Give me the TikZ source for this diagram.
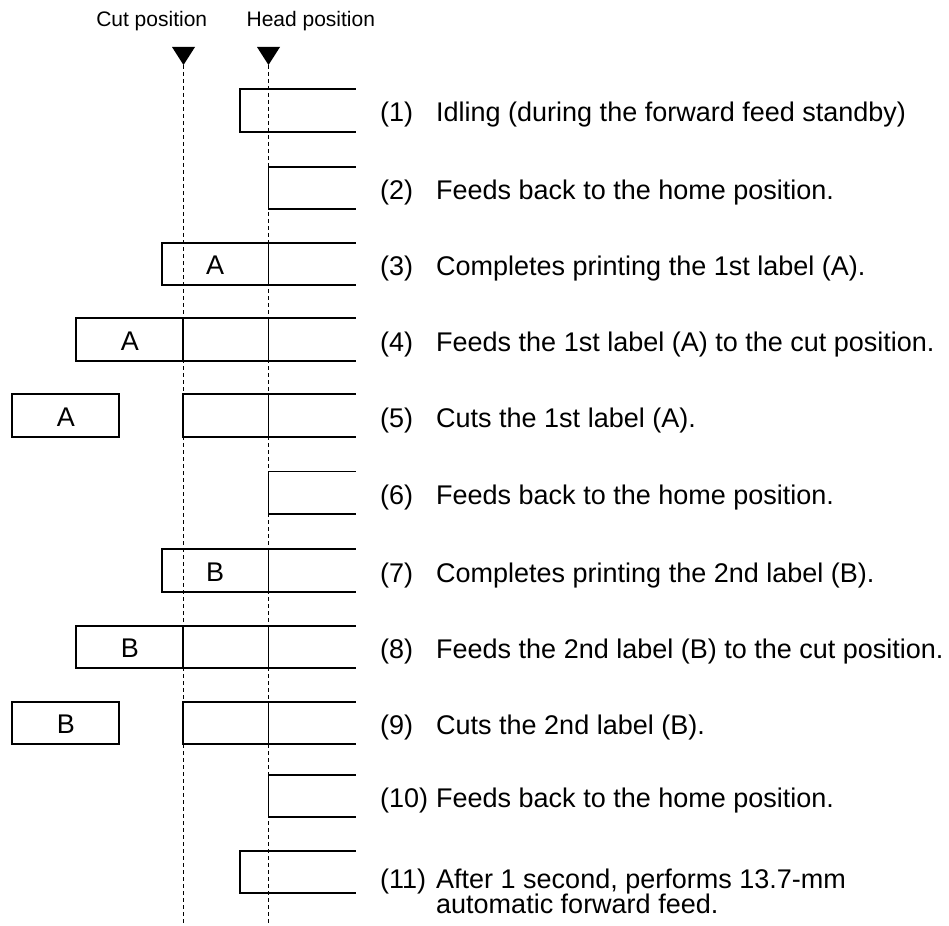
\documentclass[tikz,border=0pt]{standalone}
\usepackage{fontspec}
\setmainfont{Liberation Sans}
\begin{document}
\begin{tikzpicture}[x=1pt,y=-1pt,
  tape/.style={line width=1.9pt, line join=miter, line cap=rect},
  guide/.style={line width=1.5pt, dash pattern=on 4pt off 3pt},
  pointer/.style={fill=black, draw=none},
  toplabel/.style={anchor=base, inner sep=0pt, font=\fontsize{21}{25}\selectfont},
  numlabel/.style={anchor=base west, inner sep=0pt, font=\fontsize{27}{30}\selectfont},
  desc/.style={anchor=base west, inner sep=0pt, font=\fontsize{27}{30}\selectfont},
  piece/.style={anchor=base, inner sep=0pt, font=\fontsize{27}{30}\selectfont}]
\useasboundingbox (0,0) rectangle (949,925);
% top labels
\node[toplabel] (cutlab) at (151.7,27) {Cut position};
\node[toplabel] (headlab) at (310.8,27) {Head position};
% pointers
\fill[pointer] (172,47) -- (195,47) -- (183.5,65) -- cycle;
\fill[pointer] (257,47) -- (280,47) -- (268.5,65) -- cycle;
% guides
\draw[guide] (183.3,65) -- (183.3,925);
\draw[guide] (268.5,65) -- (268.5,925);
% row 1
\draw[tape] (355,89.3) -- (240,89.3) -- (240,131.7) -- (355,131.7);
% row 2
\draw[tape] (355,166.7) -- (268.5,166.7) -- (268.5,209) -- (355,209);
% row 3
\draw[tape] (355,242.7) -- (161.7,242.7) -- (161.7,285.3) -- (355,285.3);
\draw[tape] (268.5,242.7) -- (268.5,285.3);
\node[piece] (a3) at (215.1,274.5) {A};
% row 4
\draw[tape] (355,318.3) -- (76.3,318.3) -- (76.3,360.7) -- (355,360.7);
\draw[tape] (183.3,318.3) -- (183.3,360.7);
\draw[tape] (268.5,318.3) -- (268.5,360.7);
\node[piece] (a4) at (129.8,350) {A};
% row 5
\draw[tape] (12.3,394.3) rectangle (119.3,436.7);
\node[piece] (a5) at (65.8,426) {A};
\draw[tape] (355,394.3) -- (183.3,394.3) -- (183.3,436.7) -- (355,436.7);
\draw[tape] (268.5,394.3) -- (268.5,436.7);
% row 6
\draw[tape] (355,471.5) -- (268.5,471.5) -- (268.5,513.9) -- (355,513.9);
% row 7
\draw[tape] (355,549.3) -- (161.7,549.3) -- (161.7,591.7) -- (355,591.7);
\draw[tape] (268.5,549.3) -- (268.5,591.7);
\node[piece] (b7) at (215.1,581) {B};
% row 8
\draw[tape] (355,625.7) -- (76.3,625.7) -- (76.3,668.1) -- (355,668.1);
\draw[tape] (183.3,625.7) -- (183.3,668.1);
\draw[tape] (268.5,625.7) -- (268.5,668.1);
\node[piece] (b8) at (129.8,657.4) {B};
% row 9
\draw[tape] (12.3,701.7) rectangle (119.3,743.7);
\node[piece] (b9) at (65.8,733.2) {B};
\draw[tape] (355,701.7) -- (183.3,701.7) -- (183.3,743.7) -- (355,743.7);
\draw[tape] (268.5,701.7) -- (268.5,743.7);
% row 10
\draw[tape] (355,775) -- (268.5,775) -- (268.5,817) -- (355,817);
% row 11
\draw[tape] (355,851) -- (240,851) -- (240,893) -- (355,893);
% texts
\node[numlabel] (n1) at (380,122) {(1)};
\node[desc] (d1) at (436,122) {Idling (during the forward feed standby)};
\node[numlabel] (n2) at (380,199.4) {(2)};
\node[desc] (d2) at (436,199.4) {Feeds back to the home position.};
\node[numlabel] (n3) at (380,275.5) {(3)};
\node[desc] (d3) at (436,275.5) {Completes printing the 1st label (A).};
\node[numlabel] (n4) at (380,351) {(4)};
\node[desc] (d4) at (436,351) {Feeds the 1st label (A) to the cut position.};
\node[numlabel] (n5) at (380,427) {(5)};
\node[desc] (d5) at (436,427) {Cuts the 1st label (A).};
\node[numlabel] (n6) at (380,504.2) {(6)};
\node[desc] (d6) at (436,504.2) {Feeds back to the home position.};
\node[numlabel] (n7) at (380,582) {(7)};
\node[desc] (d7) at (436,582) {Completes printing the 2nd label (B).};
\node[numlabel] (n8) at (380,658.5) {(8)};
\node[desc] (d8) at (436,658.5) {Feeds the 2nd label (B) to the cut position.};
\node[numlabel] (n9) at (380,734.2) {(9)};
\node[desc] (d9) at (436,734.2) {Cuts the 2nd label (B).};
\node[numlabel] (n10) at (380,807.5) {(10)};
\node[desc] (d10) at (436,807.5) {Feeds back to the home position.};
\node[numlabel] (n11) at (380,888) {(11)};
\node[desc] (d11a) at (436,888) {After 1 second, performs 13.7-mm};
\node[desc] (d11b) at (436,913.5) {automatic forward feed.};
\end{tikzpicture}
\end{document}
